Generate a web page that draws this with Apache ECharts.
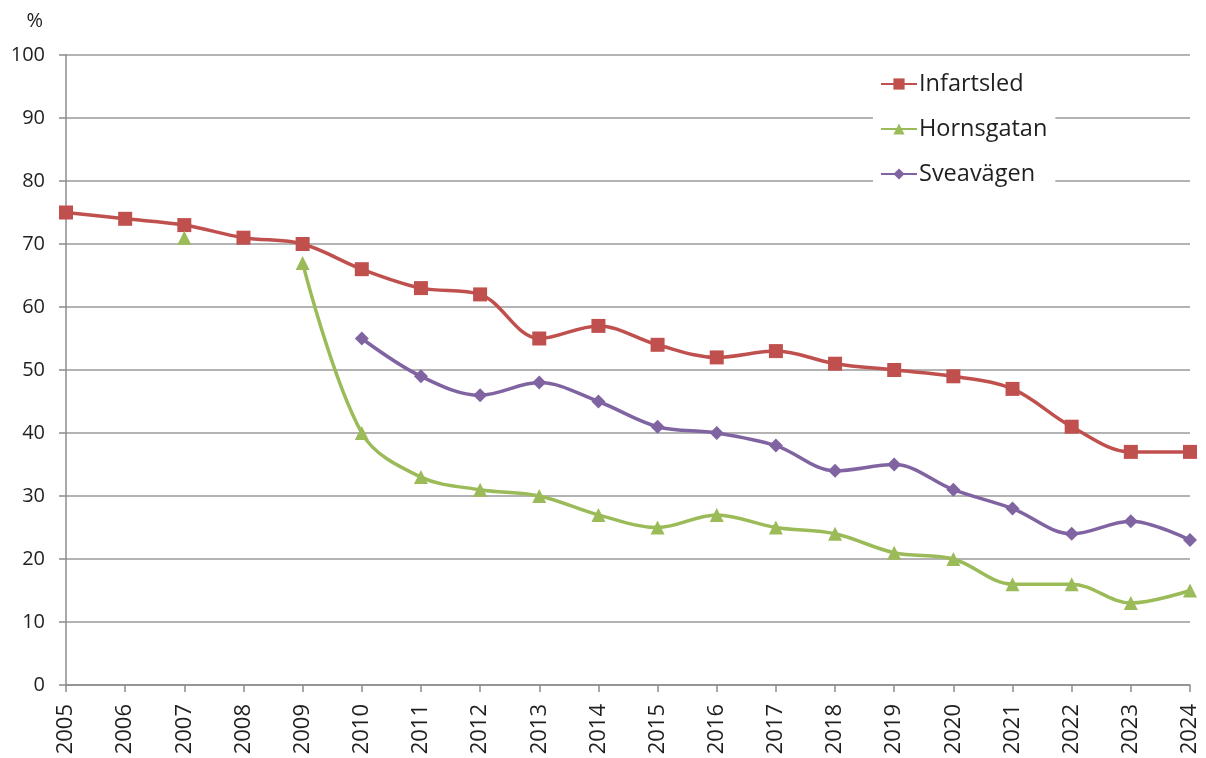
<!DOCTYPE html>
<html>
<head>
<meta charset="utf-8">
<script src="https://cdn.jsdelivr.net/npm/echarts@6/dist/echarts.min.js"></script>
<style>
  html, body { margin: 0; padding: 0; background: #fff; }
  #chart { width: 1206px; height: 758px; }
</style>
</head>
<body>
<div id="chart"></div>
<script>
// Years on the category axis
const years = ['2005','2006','2007','2008','2009','2010','2011','2012','2013','2014',
               '2015','2016','2017','2018','2019','2020','2021','2022','2023','2024'];

// Share (%) per year for each street; null where there is no measurement
const infartsled = [75, 74, 73, 71, 70, 66, 63, 62, 55, 57, 54, 52, 53, 51, 50, 49, 47, 41, 37, 37];
const hornsgatan = [null, null, 71, null, 67, 40, 33, 31, 30, 27, 25, 27, 25, 24, 21, 20, 16, 16, 13, 15];
const sveavagen  = [null, null, null, null, null, 55, 49, 46, 48, 45, 41, 40, 38, 34, 35, 31, 28, 24, 26, 23];

// Value axis ticks
const yMin = 0, yMax = 100, yStep = 10;

const FONT = '"Open Sans", "Noto Sans", sans-serif';
const TEXT = '#1f1f1f';
const AXIS = '#8c8c8c';
const chart = echarts.init(document.getElementById('chart'), null, { renderer: 'canvas' });

function lineSeries(name, data, color, symbol, size) {
  return {
    name: name,
    type: 'line',
    data: data,
    smooth: 0.35,
    connectNulls: false,
    symbol: symbol,
    symbolSize: size,
    showSymbol: true,
    lineStyle: { color: color, width: 3.5 },
    itemStyle: { color: color },
    emphasis: { disabled: true },
    z: 3
  };
}

chart.setOption({
  animation: false,
  backgroundColor: '#ffffff',
  grid: { left: 66, right: 16, top: 55, bottom: 73, containLabel: false },
  legend: {
    orient: 'vertical',
    left: 873,
    top: 60,
    backgroundColor: '#ffffff',
    padding: [12, 8, 10, 7],
    itemGap: 21,
    itemWidth: 36,
    itemHeight: 14,
    textStyle: { fontFamily: FONT, fontSize: 23.5, color: TEXT, padding: [0, 0, 0, -3] },
    data: ['Infartsled', 'Hornsgatan', 'Sveavägen']
  },
  xAxis: {
    type: 'category',
    data: years,
    boundaryGap: false,
    axisLine: { lineStyle: { color: AXIS, width: 1.5 } },
    axisTick: { show: true, alignWithLabel: true, length: 7, lineStyle: { color: AXIS, width: 1.5 } },
    axisLabel: {
      rotate: 90,
      interval: 0,
      margin: 19,
      fontFamily: FONT,
      fontSize: 22,
      color: TEXT
    },
    splitLine: { show: false }
  },
  yAxis: {
    type: 'value',
    min: yMin,
    max: yMax,
    interval: yStep,
    name: '%',
    nameLocation: 'end',
    nameGap: 24,
    nameTextStyle: { fontFamily: FONT, fontSize: 20, color: TEXT, align: 'right', padding: [0, 23, 0, 0] },
    axisLine: { show: true, lineStyle: { color: AXIS, width: 1.5 } },
    axisTick: { show: true, length: 7, lineStyle: { color: AXIS, width: 1.5 } },
    axisLabel: { margin: 21, fontFamily: FONT, fontSize: 20, color: TEXT },
    splitLine: { show: true, lineStyle: { color: '#9a9a9a', width: 1.5 } }
  },
  series: [
    lineSeries('Infartsled', infartsled, '#C0504D', 'rect', 14),
    lineSeries('Hornsgatan', hornsgatan, '#9BBB59', 'triangle', 14),
    lineSeries('Sveavägen', sveavagen, '#8064A2', 'diamond', 14)
  ]
});
</script>
</body>
</html>
